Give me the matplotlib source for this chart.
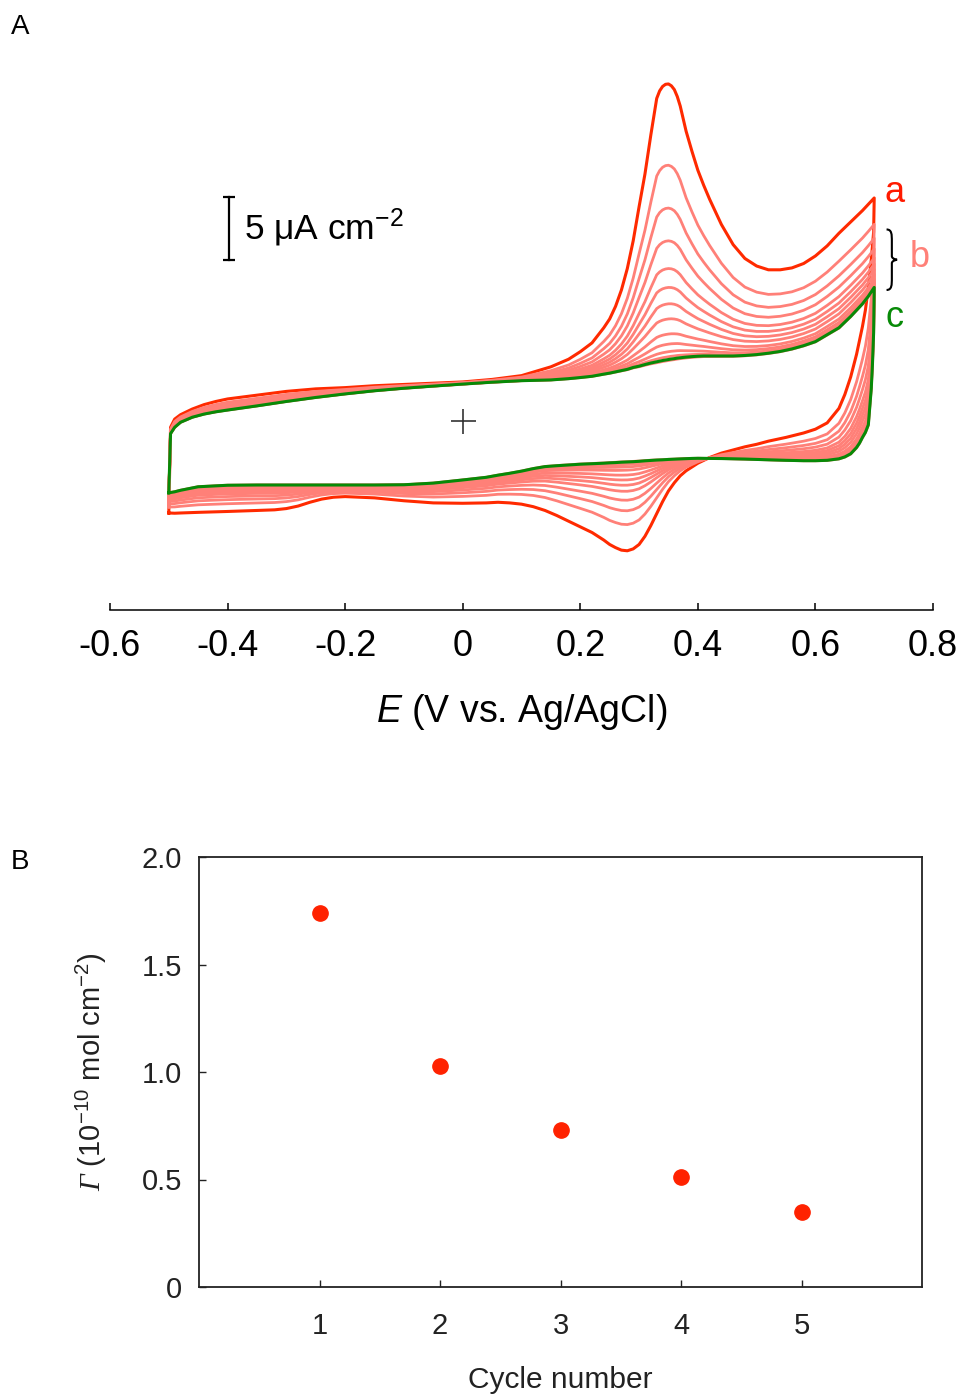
import numpy as np
import matplotlib
matplotlib.use("Agg")
import matplotlib.pyplot as plt
from matplotlib.path import Path
from matplotlib.patches import PathPatch

plt.rcParams["font.family"] = ["Liberation Sans", "DejaVu Sans"]
plt.rcParams["mathtext.fontset"] = "custom"
plt.rcParams["mathtext.rm"] = "Liberation Sans"
plt.rcParams["mathtext.it"] = "Liberation Sans:italic"
plt.rcParams["mathtext.cal"] = "Liberation Serif:italic"

# ---- panel A: repeated CV scans (uA cm-2 vs V) ----
# forward sweep -0.5 -> 0.7 V
e_fwd = [-0.500, -0.497, -0.49, -0.48, -0.46, -0.44, -0.42, -0.40,
         -0.35, -0.30, -0.25, -0.20, -0.15, -0.10, -0.05, 0.00,
         0.05, 0.10, 0.15, 0.18, 0.20, 0.22, 0.24, 0.25,
         0.26, 0.27, 0.28, 0.29, 0.30, 0.31, 0.32, 0.33,
         0.335, 0.34, 0.345, 0.35, 0.355, 0.36, 0.365, 0.37,
         0.38, 0.39, 0.40, 0.41,
         0.42, 0.44, 0.46, 0.48, 0.50, 0.52, 0.54, 0.56,
         0.58, 0.60, 0.62, 0.64, 0.66, 0.68, 0.69, 0.70]
i_fwd_first = [-7.3, -0.5, 0.15, 0.5, 0.95, 1.3, 1.55, 1.75,
               2.05, 2.35, 2.55, 2.65, 2.8, 2.9, 3.0, 3.1,
               3.3, 3.6, 4.3, 4.9, 5.5, 6.2, 7.4, 8.1,
               9.1, 10.4, 12.1, 14.3, 17.0, 19.6, 22.7, 25.6,
               26.2, 26.55, 26.72, 26.75, 26.6, 26.3, 25.75, 25.0,
               23.0, 21.4, 19.9, 18.7,
               17.6, 15.6, 14.0, 12.9, 12.3, 12.0, 12.0, 12.15,
               12.5, 13.1, 13.9, 14.9, 15.8, 16.7, 17.2, 17.7]
i_fwd_last = [-5.7, -1.0, -0.5, -0.1, 0.3, 0.55, 0.73, 0.87,
              1.2, 1.55, 1.87, 2.15, 2.4, 2.6, 2.77, 2.93,
              3.08, 3.2, 3.26, 3.36, 3.45, 3.55, 3.72, 3.8,
              3.9, 4.0, 4.1, 4.25, 4.35, 4.48, 4.6, 4.7,
              4.75, 4.8, 4.84, 4.88, 4.92, 4.95, 4.99, 5.02,
              5.07, 5.11, 5.14, 5.16,
              5.16, 5.16, 5.16, 5.2, 5.27, 5.38, 5.52, 5.72,
              5.98, 6.3, 6.85, 7.4, 8.3, 9.3, 9.9, 10.6]

# reverse sweep 0.7 -> -0.5 V
e_rev = [0.70, 0.699, 0.697, 0.695, 0.69, 0.685, 0.68, 0.675,
         0.67, 0.66, 0.65, 0.64, 0.62, 0.60, 0.58, 0.55,
         0.52, 0.50, 0.48, 0.46, 0.44, 0.42, 0.40, 0.39,
         0.38, 0.37, 0.36, 0.35, 0.34, 0.33, 0.32, 0.31,
         0.30, 0.29, 0.28, 0.27, 0.26, 0.25, 0.24, 0.22,
         0.20, 0.18, 0.16, 0.14, 0.12, 0.10, 0.08, 0.06,
         0.04, 0.00, -0.05, -0.10, -0.15, -0.20, -0.22, -0.24,
         -0.26, -0.28, -0.30, -0.32, -0.35, -0.40, -0.45, -0.48,
         -0.49, -0.50]
i_rev_first = [17.7, 15.0, 13.9, 12.8, 10.6, 8.8, 7.5, 6.4,
               5.3, 3.5, 2.1, 1.0, -0.15, -0.65, -0.95, -1.3,
               -1.6, -1.85, -2.05, -2.3, -2.55, -2.9, -3.35, -3.65,
               -3.95, -4.35, -4.9, -5.55, -6.4, -7.35, -8.3, -9.15,
               -9.8, -10.15, -10.3, -10.25, -10.05, -9.8, -9.45, -8.85,
               -8.4, -7.95, -7.5, -7.1, -6.8, -6.6, -6.5, -6.45,
               -6.5, -6.53, -6.5, -6.33, -6.1, -6.0, -6.05, -6.2,
               -6.45, -6.75, -6.95, -7.05, -7.1, -7.18, -7.25, -7.3,
               -7.32, -7.3]
i_rev_last = [10.6, 7.0, 4.5, 2.6, -0.3, -0.9, -1.3, -1.75,
              -2.1, -2.6, -2.85, -3.0, -3.12, -3.15, -3.15, -3.12,
              -3.08, -3.05, -3.02, -3.0, -2.98, -2.97, -2.96, -2.97,
              -2.99, -3.01, -3.03, -3.05, -3.08, -3.1, -3.13, -3.16,
              -3.2, -3.23, -3.25, -3.27, -3.3, -3.32, -3.35, -3.39,
              -3.43, -3.49, -3.55, -3.62, -3.78, -3.98, -4.15, -4.3,
              -4.47, -4.68, -4.93, -5.06, -5.08, -5.08, -5.08, -5.08,
              -5.08, -5.08, -5.08, -5.08, -5.08, -5.1, -5.22, -5.5,
              -5.62, -5.7]

# anodic peak current of the intermediate scans
peak_mid = [20.3, 16.9, 14.3, 12.1, 10.6, 9.3, 8.1, 6.9, 6.1, 5.5, 5.1, 4.8]

# ---- panel B: surface coverage per cycle ----
cycles = [1, 2, 3, 4, 5]
coverage = [1.74, 1.03, 0.73, 0.51, 0.35]

RED = "#ff2a00"
PINK = "#ff8078"
GREEN = "#078a07"

fig = plt.figure(figsize=(9.63, 13.94), dpi=100)
W, H = 963, 1394

# CV axes: bottom spine only
axA = fig.add_axes([110 / W, 1 - 610 / H, 823 / W, 550 / H])
axA.set_xlim(-0.6, 0.8)
axA.set_ylim(-15, -15 + 550 / 12.6)

e_loop = np.r_[e_fwd, e_rev]
first = np.r_[i_fwd_first, i_rev_first]
last = np.r_[i_fwd_last, i_rev_last]

k = int(np.argmax(i_fwd_first))
span = i_fwd_first[k] - i_fwd_last[k]

axA.plot(e_loop, first, color=RED, lw=2.2, zorder=2)
for p in peak_mid:
    w = (p - i_fwd_last[k]) / span
    axA.plot(e_loop, last + w * (first - last), color=PINK, lw=2.0, zorder=3)
axA.plot(e_loop, last, color=GREEN, lw=2.2, zorder=4)

# origin marker
axA.plot([0], [0], marker="+", ms=18, mew=1.2, color="#333333", zorder=5)

# 5 uA cm-2 scale bar
sb_x, sb_y0 = -0.3975, 12.8
axA.plot([sb_x, sb_x], [sb_y0, sb_y0 + 5], color="black", lw=1.6)
axA.plot([sb_x, sb_x], [sb_y0, sb_y0 + 5], ls="none", marker="_", ms=8, mew=1.6, color="black")
axA.text(-0.372, sb_y0 + 2.5, r"5 μA cm$^{-2}$", fontsize=25.5, va="center", ha="left")

# curve labels
axA.text(0.735, 18.1, "a", color="#ff1a00", fontsize=26, ha="center", va="center")
axA.text(0.778, 13.0, "b", color=PINK, fontsize=26, ha="center", va="center")
axA.text(0.735, 8.2, "c", color=GREEN, fontsize=26, ha="center", va="center")


def brace(ax, x0, y_lo, y_hi, width):
    # right-pointing curly brace in data coordinates
    ym = 0.5 * (y_lo + y_hi)
    h = y_hi - y_lo
    xm = x0 + 0.5 * width
    verts = [(x0, y_hi),
             (xm, y_hi), (xm, y_hi - 0.08 * h), (xm, y_hi - 0.2 * h),
             (xm, ym + 0.06 * h),
             (xm, ym + 0.01 * h), (x0 + width, ym), (x0 + width, ym),
             (x0 + width, ym), (xm, ym - 0.01 * h), (xm, ym - 0.06 * h),
             (xm, y_lo + 0.2 * h),
             (xm, y_lo + 0.08 * h), (xm, y_lo), (x0, y_lo)]
    codes = ([Path.MOVETO] + [Path.CURVE4] * 3 + [Path.LINETO] + [Path.CURVE4] * 6
             + [Path.LINETO] + [Path.CURVE4] * 3)
    ax.add_patch(PathPatch(Path(verts, codes), fc="none", ec="black", lw=1.5,
                           clip_on=False))


brace(axA, 0.721, 10.4, 15.2, 0.018)

for s in ["left", "right", "top"]:
    axA.spines[s].set_visible(False)
axA.spines["bottom"].set_position(("data", -15))
axA.spines["bottom"].set_linewidth(1.1)
axA.set_yticks([])
axA.set_xticks([-0.6, -0.4, -0.2, 0, 0.2, 0.4, 0.6, 0.8])
axA.set_xticklabels(["-0.6", "-0.4", "-0.2", "0", "0.2", "0.4", "0.6", "0.8"])
axA.tick_params(axis="x", direction="in", length=5, width=1.1, labelsize=26, pad=14)
axA.set_xlabel(r"$\mathit{E}$ (V vs. Ag/AgCl)", fontsize=27, labelpad=20)

# coverage axes
axB = fig.add_axes([199 / W, 1 - 1287 / H, 723 / W, 430 / H])
axB.plot(cycles, coverage, ls="none", marker="o", ms=11, color="#ff2200", mec="#ff2200")
axB.set_xlim(0, 6)
axB.set_ylim(0, 2)
axB.set_xticks(cycles)
axB.set_yticks([0, 0.5, 1.0, 1.5, 2.0])
axB.set_yticklabels(["0", "0.5", "1.0", "1.5", "2.0"])
axB.tick_params(direction="in", length=5, width=1.0, labelsize=21, colors="#222222")
axB.tick_params(axis="x", pad=18)
axB.tick_params(axis="y", pad=12)
for s in axB.spines.values():
    s.set_linewidth(1.3)
    s.set_color("#222222")
axB.set_xlabel("Cycle number", fontsize=21.5, color="#222222", labelpad=19)
axB.set_ylabel(r"$\mathcal{\Gamma}$ (10$^{-10}$ mol cm$^{-2}$)", fontsize=21,
               color="#222222", labelpad=24)

fig.text(20 / W, 1 - 27 / H, "A", fontsize=20, ha="center", va="center")
fig.text(20 / W, 1 - 862 / H, "B", fontsize=20, ha="center", va="center")

fig.savefig("out.png", dpi=100, facecolor="white")
